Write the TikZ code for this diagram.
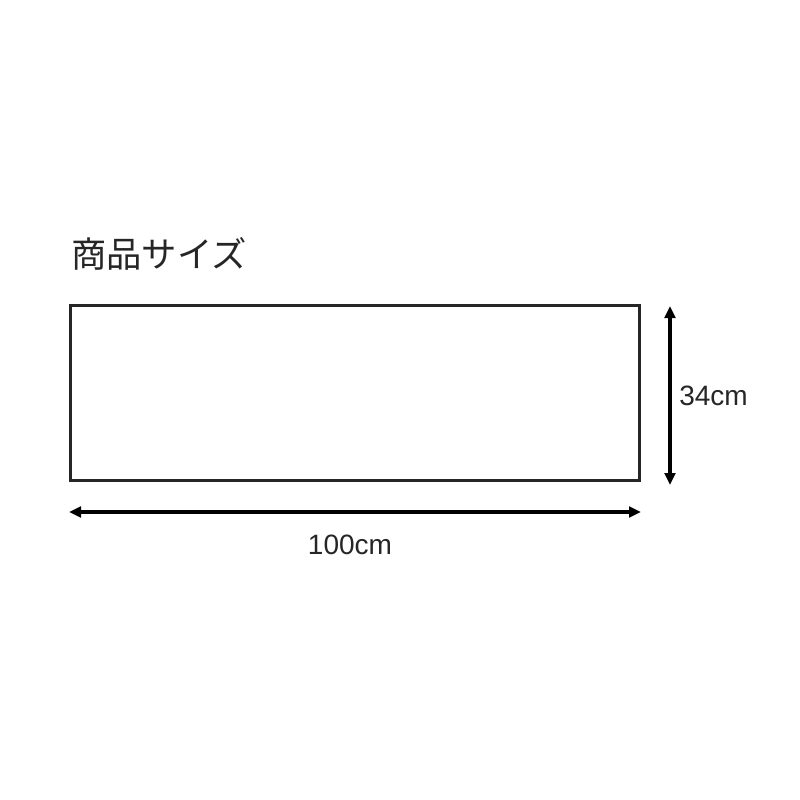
\documentclass[tikz,border=0pt]{standalone}
\usepackage{fontspec}
\setmainfont{Liberation Sans}
\newfontfamily\cjk{Noto Sans CJK JP}
\usetikzlibrary{arrows.meta}
\begin{document}
\begin{tikzpicture}[x=0.75pt, y=-0.75pt]
        \useasboundingbox (0,0) rectangle (800,800);
        % Nodes
        \node (box) [rectangle, draw=black!85, line width=2.5pt, minimum width=569*0.75pt, minimum height=175*0.75pt, inner sep=0pt] at (355,393) {};
        \node (title) [anchor=west, inner sep=0pt, font=\cjk\fontsize{26.5}{30}\selectfont, text=black!85] at (71,254) {商品サイズ};
        \node (hlabel) [inner sep=0pt, font=\fontsize{21}{25}\selectfont, text=black!85] at (350,545) {100cm};
        \node (vlabel) [anchor=west, inner sep=0pt, font=\fontsize{21}{25}\selectfont, text=black!85] at (679,396) {34cm};
        \coordinate (hl) at (69,512);
        \coordinate (hr) at (641,512);
        \coordinate (vt) at (670,306);
        \coordinate (vb) at (670,485);

        % Edges
        \draw [line width=2.5pt, {Stealth[length=9pt,width=8pt,inset=0pt]}-{Stealth[length=9pt,width=8pt,inset=0pt]}] (hl) -- (hr);
        \draw [line width=2.5pt, {Stealth[length=9pt,width=8pt,inset=0pt]}-{Stealth[length=9pt,width=8pt,inset=0pt]}] (vt) -- (vb);

    \end{tikzpicture}
\end{document}
